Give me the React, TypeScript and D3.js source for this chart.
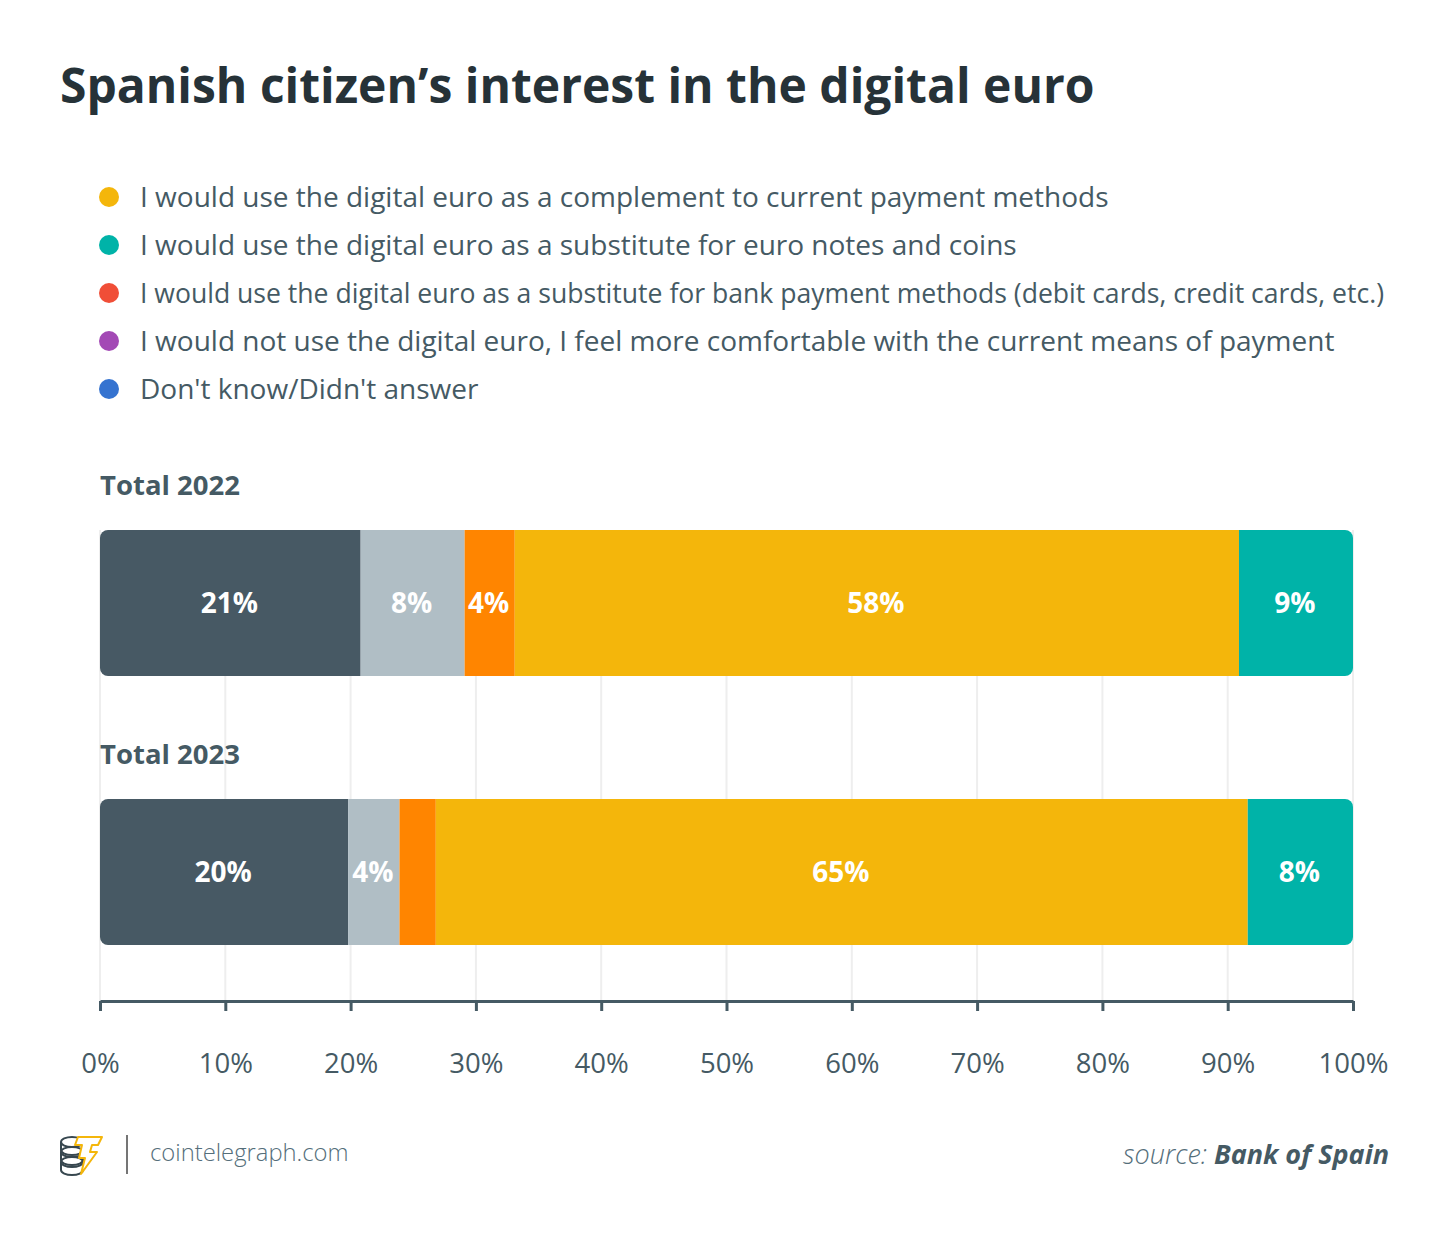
import React, { useRef, useEffect } from "react";
import * as d3 from "d3";

const categories = ["Total 2022", "Total 2023"];
const segmentKeys = ["dontKnow", "notUse", "bankSubstitute", "complement", "cashSubstitute"];
const values2022 = [20.8, 8.3, 4.0, 57.8, 9.1];
const values2023 = [19.8, 4.1, 2.9, 64.8, 8.4];
const labels2022 = ["21%", "8%", "4%", "58%", "9%"];
const labels2023 = ["20%", "4%", "", "65%", "8%"];
const segmentColors = ["#475964", "#b0bec5", "#ff8500", "#f4b60b", "#00b3a8"];

const legendLabels = [
  "I would use the digital euro as a complement to current payment methods",
  "I would use the digital euro as a substitute for euro notes and coins",
  "I would use the digital euro as a substitute for bank payment methods (debit cards, credit cards, etc.)",
  "I would not use the digital euro, I feel more comfortable with the current means of payment",
  "Don't know/Didn't answer",
];
const legendColors = ["#f4b60b", "#00b3a8", "#f04e37", "#a349b5", "#3573d0"];

const ticks = [0, 10, 20, 30, 40, 50, 60, 70, 80, 90, 100];

const W = 1450;
const H = 1235;
const FONT = "'Open Sans', sans-serif";

export default function App() {
  const ref = useRef<SVGSVGElement>(null);

  useEffect(() => {
    if (!ref.current) return;
    const svg = d3.select(ref.current);
    svg.selectAll("*").remove();

    svg.append("rect").attr("width", W).attr("height", H).attr("fill", "#fff");

    // title
    svg.append("text")
      .attr("x", 60).attr("y", 103)
      .attr("font-family", FONT).attr("font-weight", 700).attr("font-size", 48)
      .attr("fill", "#263238")
      .text("Spanish citizen\u2019s interest in the digital euro");

    // legend
    const leg = svg.append("g");
    legendLabels.forEach((lbl, i) => {
      const y = 207 + i * 48;
      leg.append("circle").attr("cx", 109).attr("cy", y - 10).attr("r", 10).attr("fill", legendColors[i]);
      const t = leg.append("text")
        .attr("x", 140).attr("y", y)
        .attr("font-family", FONT).attr("font-size", 28)
        .attr("fill", "#455a64")
        .text(lbl);
      // the long line is squeezed to fit the width in the original
      if (i === 2) t.attr("textLength", 1244).attr("lengthAdjust", "spacingAndGlyphs");
    });

    const x = d3.scaleLinear().domain([0, 100]).range([100, 1353]);
    const barTop = (c: string) => (c === categories[0] ? 530 : 799);
    const barH = 146;

    // gridlines
    svg.append("g")
      .selectAll("line")
      .data(ticks)
      .join("line")
      .attr("x1", (d) => x(d)).attr("x2", (d) => x(d))
      .attr("y1", 530).attr("y2", 1001)
      .attr("stroke", "#eeeeee").attr("stroke-width", 2);

    const rows = [
      { cat: categories[0], values: values2022, labels: labels2022 },
      { cat: categories[1], values: values2023, labels: labels2023 },
    ];

    rows.forEach((row, ri) => {
      const top = barTop(row.cat);
      const clipId = "clip-" + ri;
      svg.append("clipPath").attr("id", clipId)
        .append("rect")
        .attr("x", x(0)).attr("y", top)
        .attr("width", x(100) - x(0)).attr("height", barH)
        .attr("rx", 8).attr("ry", 8);

      const starts = d3.cumsum([0, ...row.values]);
      const segs = row.values.map((v, i) => ({
        key: segmentKeys[i], x0: starts[i], x1: starts[i] + v, label: row.labels[i], color: segmentColors[i],
      }));

      const g = svg.append("g").attr("clip-path", `url(#${clipId})`);
      g.selectAll("rect")
        .data(segs)
        .join("rect")
        .attr("x", (d) => x(d.x0))
        .attr("y", top)
        .attr("width", (d) => x(d.x1) - x(d.x0))
        .attr("height", barH)
        .attr("fill", (d) => d.color);

      svg.append("g")
        .selectAll("text")
        .data(segs.filter((d) => d.label))
        .join("text")
        .attr("x", (d) => (x(d.x0) + x(d.x1)) / 2 - 1)
        .attr("y", top + barH / 2 + 10)
        .attr("text-anchor", "middle")
        .attr("font-family", FONT).attr("font-weight", 700).attr("font-size", 28)
        .attr("fill", "#fff")
        .text((d) => d.label);

      svg.append("text")
        .attr("x", 100).attr("y", top - 35)
        .attr("font-family", FONT).attr("font-weight", 700).attr("font-size", 27.5)
        .attr("fill", "#455a64")
        .text(row.cat);
    });

    // x axis
    const axis = svg.append("g").attr("transform", "translate(0,1001)")
      .call(d3.axisBottom(x).tickValues(ticks).tickSize(10).tickSizeOuter(0).tickPadding(42).tickFormat((d) => d + "%"));
    axis.select(".domain").attr("stroke", "#455a64").attr("stroke-width", 3);
    axis.selectAll(".tick line").attr("stroke", "#455a64").attr("stroke-width", 3);
    axis.selectAll(".tick text")
      .attr("font-family", FONT).attr("font-size", 27.5).attr("fill", "#455a64");

    // footer logo
    const logo = svg.append("g").attr("fill", "none").attr("stroke", "#37474f").attr("stroke-width", 2);
    [1142, 1152, 1162].forEach((cy) => {
      logo.append("path")
        .attr("d", `M61,${cy} a11,5 0 1,0 22,0 a11,5 0 1,0 -22,0 M61,${cy} v8 a11,5 0 0,0 22,0 v-8`);
    });
    svg.append("path")
      .attr("d", "M78,1137 L102,1137 L98,1145 L92,1145 L90,1152 L97,1152 L81,1174 L85,1158 L79,1158 L82,1145 L75,1145 Z")
      .attr("fill", "#fff").attr("stroke", "#f4b60b").attr("stroke-width", 2).attr("stroke-linejoin", "round");
    svg.append("line").attr("x1", 127).attr("x2", 127).attr("y1", 1135).attr("y2", 1174)
      .attr("stroke", "#757575").attr("stroke-width", 2);
    svg.append("text")
      .attr("x", 150).attr("y", 1161)
      .attr("font-family", FONT).attr("font-weight", 300).attr("font-size", 23.8)
      .attr("fill", "#546e7a")
      .text("cointelegraph.com");

    const src = svg.append("text")
      .attr("x", 1389).attr("y", 1164).attr("text-anchor", "end")
      .attr("font-family", FONT).attr("font-style", "italic").attr("font-size", 27)
      .attr("fill", "#546e7a");
    src.append("tspan").attr("font-weight", 300).text("source: ");
    src.append("tspan").attr("font-weight", 700).attr("fill", "#455a64").text("Bank of Spain");
  }, []);

  return (
    <svg
      ref={ref}
      width={W}
      height={H}
      style={{ position: "absolute", left: 0, top: 0, display: "block" }}
    />
  );
}
